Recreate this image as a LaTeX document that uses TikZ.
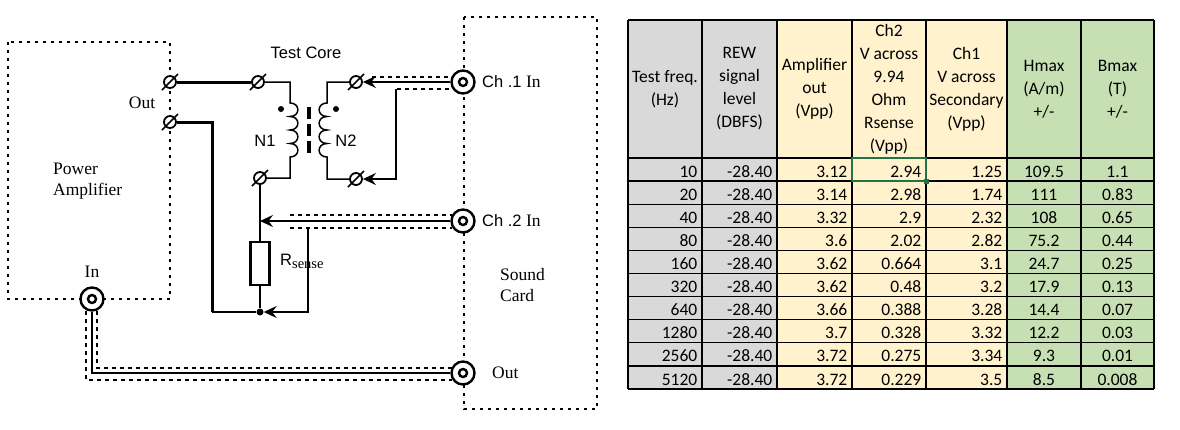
\documentclass[tikz,border=0pt]{standalone}
\usepackage{fontspec}
\setmainfont{Liberation Serif}
\newfontfamily\labsans{Liberation Sans}
\newfontfamily\cellfont{Carlito}
\usepackage{tikz}
\usetikzlibrary{arrows.meta}

\definecolor{cellgray}{HTML}{D9D9D9}
\definecolor{cellcream}{HTML}{FFF2CC}
\definecolor{cellgreen}{HTML}{C6E0B4}
\definecolor{selgreen}{HTML}{217346}

\tikzset{
  wire/.style={line width=1.5pt},
  thickwire/.style={line width=3pt},
  shield/.style={line width=1.6pt, dash pattern=on 3.5pt off 4.5pt},
  unitbox/.style={line width=2pt, dash pattern=on 3pt off 5pt},
  term/.style={circle, draw, fill=white, line width=1.8pt, minimum size=12pt, inner sep=0pt},
  coax/.style={circle, draw, fill=white, line width=2.4pt, minimum size=23pt, inner sep=0pt,
    path picture={\draw[line width=2.4pt] (path picture bounding box.center) circle (4pt);}},
  probe/.style={wire, -{Stealth[length=13pt,width=12pt,inset=4.5pt]}},
  serlab/.style={font=\fontsize{17.5}{21}\selectfont, inner sep=0pt},
  sanlab/.style={font=\labsans\fontsize{16.5}{20}\selectfont, inner sep=0pt},
  hdr/.style={font=\cellfont\fontsize{17.5}{23}\selectfont, align=center, inner sep=0pt},
  cell/.style={font=\cellfont\fontsize{17.5}{23}\selectfont, inner sep=0pt},
  grid/.style={line width=1.3pt}
}

\begin{document}
\begin{tikzpicture}[x=1pt,y=-1pt]
  \useasboundingbox (0,0) rectangle (1180,429);

  % boxes of the two units
  \draw[unitbox] (8,42) rectangle (170,299);
  \draw[unitbox] (464,17) rectangle (597,409);

  % terminals and sockets
  \node[term] (ampA) at (170,82) {};
  \node[term] (ampB) at (170,122) {};
  \node[term] (tA) at (258,82) {};
  \node[term] (tB) at (260,178) {};
  \node[term] (tC) at (356,82) {};
  \node[term] (tD) at (356,179) {};
  \foreach \t in {ampA,ampB,tA,tB,tC,tD}
    \draw[wire] (\t.center) ++(-8,8) -- ++(16,-16);
  \node[coax] (ch1) at (463,82) {};
  \node[coax] (ch2) at (463,221) {};
  \node[coax] (scout) at (463,373) {};
  \node[coax] (ampin) at (92,299) {};

  \node[draw, line width=2.2pt, minimum width=19pt, minimum height=43pt, inner sep=0pt] (rs) at (260,263.5) {};
  \node[circle, fill, inner sep=0pt, minimum size=7pt] (jn) at (260,312) {};
  \coordinate (gnd) at (212,312);
  \coordinate (tap2) at (260,221);
  \coordinate (ch1ret) at (396,89);
  \coordinate (ch2ret) at (308,228);

  % windings and core
  \draw[wire] (tA) -| (290,103)
    \foreach \k in {1,...,4} { .. controls +(10.5,0) and +(10.5,0) .. (290,{103+13.5*\k}) } |- (tB);
  \draw[wire] (tC) -| (327,103)
    \foreach \k in {1,...,4} { .. controls +(-10.5,0) and +(-10.5,0) .. (327,{103+13.5*\k}) } |- (tD);
  \draw[line width=3.8pt, dash pattern=on 12pt off 5pt] (309,107) -- (309,153);
  \fill (281,109) circle (3pt);
  \fill (336,109) circle (3pt);

  % wiring
  \draw[thickwire] (ampA) -- (tA);
  \draw[thickwire] (ampB) -| (gnd);
  \draw[wire] (gnd) -- (jn);
  \draw[wire] (tB) -- (rs);
  \draw[wire] (rs) -- (jn);

  % cables
  \draw[probe] (ch1) -- (tC);
  \draw[probe] (ch1ret) |- (tD);
  \draw[shield] (372,77) -- (452,77);
  \draw[shield] (397,89) -- (452,89);
  \draw[probe] (ch2) -- (tap2);
  \draw[probe] (ch2ret) |- (jn);
  \draw[shield] (290,215) -- (452,215);
  \draw[shield] (290,228) -- (452,228);
  \draw[wire] (ampin) |- (scout);
  \draw[shield] (86,311) |- (452,380);
  \draw[shield] (97,311) |- (452,368);

  % labels
  \node[sanlab, anchor=base] (core) at (306,58) {Test Core};
  \node[sanlab, anchor=base] (n1) at (265,146) {N1};
  \node[sanlab, anchor=base] (n2) at (346,146) {N2};
  \node[sanlab, anchor=base west] (rslab) at (280,265) {R\raisebox{-3pt}{\rmfamily\fontsize{14.5}{15}\selectfont sense}};
  \node[serlab, anchor=base] (outlab) at (142,108) {Out};
  \node[serlab, anchor=north west, align=left] (palab) at (53,163) {Power\\Amplifier};
  \node[serlab, anchor=base] (inlab) at (92,277) {In};
  \node[serlab, anchor=base west] (ch1lab) at (482,87) {{\labsans\fontsize{16.5}{20}\selectfont Ch .1} In};
  \node[serlab, anchor=base west] (ch2lab) at (482,226) {{\labsans\fontsize{16.5}{20}\selectfont Ch .2} In};
  \node[serlab, anchor=north west, align=left] (sclab) at (500,268) {Sound\\Card};
  \node[serlab, anchor=base west] (scoutlab) at (492,378) {Out};

  % table
  \fill[cellgray] (628,20) rectangle (777,389);
  \fill[cellcream] (777,20) rectangle (1007,389);
  \fill[cellgreen] (1007,20) rectangle (1154,389);
  \foreach \x in {628,702,777,852,926,1007,1081,1154}
    \draw[grid] (\x,20) -- (\x,389);
  \draw[grid] (628,20) -- (1154,20);
  \foreach \k in {0,...,10}
    \draw[grid] (628,{158+23.1*\k}) -- (1154,{158+23.1*\k});

  \node[hdr] (hfreq) at (665,89) {Test freq.\\(Hz)};
  \node[hdr] (hrew) at (739.5,89) {REW\\signal\\level\\(DBFS)};
  \node[hdr] (hamp) at (814.5,89) {Amplifier\\out\\(Vpp)};
  \node[hdr] (hch2) at (889,89) {Ch2\\V across\\9.94\\Ohm\\Rsense\\(Vpp)};
  \node[hdr] (hch1) at (966.5,89) {Ch1\\V across\\Secondary\\(Vpp)};
  \node[hdr] (hhmax) at (1044,89) {Hmax\\(A/m)\\+/-};
  \node[hdr] (hbmax) at (1117.5,89) {Bmax\\(T)\\+/-};

  \foreach \fq/\lv/\va/\vr/\vs/\hm/\bm [count=\i] in {
      10/-28.40/3.12/2.94/1.25/109.5/1.1,
      20/-28.40/3.14/2.98/1.74/111/0.83,
      40/-28.40/3.32/2.9/2.32/108/0.65,
      80/-28.40/3.6/2.02/2.82/75.2/0.44,
      160/-28.40/3.62/0.664/3.1/24.7/0.25,
      320/-28.40/3.62/0.48/3.2/17.9/0.13,
      640/-28.40/3.66/0.388/3.28/14.4/0.07,
      1280/-28.40/3.7/0.328/3.32/12.2/0.03,
      2560/-28.40/3.72/0.275/3.34/9.3/0.01,
      5120/-28.40/3.72/0.229/3.5/8.5/0.008}{
    \pgfmathsetmacro\yb{158+23.1*\i-4}
    \node[cell, anchor=base east] (fq\i) at (697.5,\yb) {\fq};
    \node[cell, anchor=base east] (lv\i) at (772.5,\yb) {\lv};
    \node[cell, anchor=base east] (va\i) at (847.5,\yb) {\va};
    \node[cell, anchor=base east] (vr\i) at (921.5,\yb) {\vr};
    \node[cell, anchor=base east] (vs\i) at (1002.5,\yb) {\vs};
    \node[cell, anchor=base] (hm\i) at (1044,\yb) {\hm};
    \node[cell, anchor=base] (bm\i) at (1117.5,\yb) {\bm};
  }
  \draw[selgreen, line width=2pt] (852,158) rectangle (926,181.1);
  \fill[selgreen] (923.5,178.6) rectangle (928.5,183.6);
\end{tikzpicture}
\end{document}
